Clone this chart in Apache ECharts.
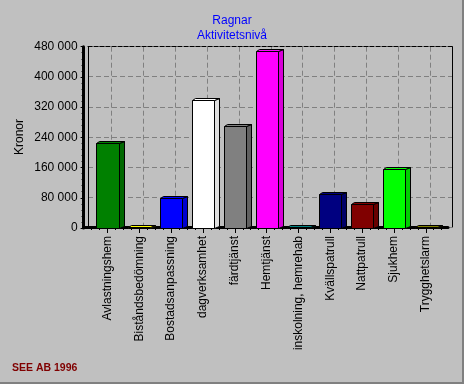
<!DOCTYPE html>
<html>
<head>
<meta charset="utf-8">
<script src="https://cdn.jsdelivr.net/npm/echarts@6/dist/echarts.min.js"></script>
<style>
html,body{margin:0;padding:0;background:#c0c0c0;}
#c{width:464px;height:384px;}
</style>
</head>
<body>
<div id="c"></div>
<script>
const categories = ['Avlastningshem','Biståndsbedömning','Bostadsanpassning','dagverksamhet','färdtjänst','Hemtjänst','inskolning, hemrehab','Kvällspatrull','Nattpatrull','Sjukhem','Trygghetslarm'];
const values = [226000, 2000, 78600, 339000, 270000, 468000, 2000, 89200, 62700, 155400, 1500];
const yTicks = [0, 80000, 160000, 240000, 320000, 400000, 480000];
const titleLines = ['Ragnar', 'Aktivitetsnivå'];
const yName = 'Kronor';
const footer = 'SEE AB 1996';

const barColors = ['#008000','#ffff00','#0000ff','#ffffff','#808080','#ff00ff','#008080','#000080','#800000','#00ff00','#808000'];
const sideColors = ['#006800','#d8d800','#0000d0','#e0e0e0','#606060','#d800d8','#006868','#000068','#680000','#00d000','#686800'];

const font = 'Liberation Sans, Arial, sans-serif';
const fmt = v => String(v).replace(/\B(?=(\d{3})+(?!\d))/g, ' ');

const chart = echarts.init(document.getElementById('c'), null, {renderer:'canvas'});

function renderBar(params, api){
  const i = api.value(0), v = api.value(1);
  const top = api.coord([i, v]);
  const base = api.coord([i, 0]);
  const w = api.size([1, 0])[0] * 0.7;
  const x1 = Math.round(top[0] - w/2) + 0.5;
  const x2 = Math.round(top[0] + w/2) + 0.5;
  const yT = Math.round(top[1]) + 0.5;
  const yB = Math.round(base[1]) + 0.5;
  const dxL = 3, dxR = 5, dy = 2;
  const c = barColors[i], s = sideColors[i];
  const st = {stroke:'#000', lineWidth:1};
  return {
    type:'group',
    children:[
      {type:'polygon', shape:{points:[[x2,yT],[x2+dxR,yT-dy],[x2+dxR,yB-dy],[x2,yB]]}, style:Object.assign({fill:s}, st)},
      {type:'polygon', shape:{points:[[x1,yT],[x1+dxL,yT-dy],[x2+dxR,yT-dy],[x2,yT]]}, style:Object.assign({fill:c}, st)},
      {type:'rect', shape:{x:x1, y:yT, width:x2-x1, height:Math.max(yB-yT,0)}, style:Object.assign({fill:c}, st)}
    ]
  };
}

const option = {
  backgroundColor:'#c0c0c0',
  animation:false,
  title:{
    text: titleLines.join('\n'),
    left:'center', top:8,
    textStyle:{color:'#0000ff', fontSize:12, fontWeight:'normal', fontFamily:font, lineHeight:15}
  },
  grid:[
    {left:91.6, right:22.3, top:46.7, bottom:156},   // front plane
    {left:88, right:12, top:46.7, bottom:157},       // frame
    {left:111.7, right:34, top:46.7, bottom:157},    // vertical grid lines
    {left:84, right:16, top:46.7, bottom:157}        // floor
  ],
  xAxis:[
    {type:'category', gridIndex:0, data:categories, position:'bottom',
     axisLine:{show:false, onZero:false},
     axisTick:{show:true, alignWithLabel:true, length:5, lineStyle:{color:'#000'}},
     axisLabel:{rotate:90, margin:8, color:'#000', fontSize:12, fontFamily:font, interval:0},
     splitLine:{show:false}},
    {type:'value', gridIndex:0, min:-0.5, max:10.5, interval:0.25, position:'bottom', offset:0,
     axisLine:{show:false, onZero:false}, axisLabel:{show:false}, splitLine:{show:false},
     axisTick:{show:true, length:2, lineStyle:{color:'#000'}}},
    {type:'value', gridIndex:1, min:0, max:1, position:'top',
     axisLine:{show:true, onZero:false, lineStyle:{color:'#000', type:[4,2], width:1}},
     axisTick:{show:false}, axisLabel:{show:false}, splitLine:{show:false}},
    {type:'value', gridIndex:2, min:0, max:10, interval:1,
     axisLine:{show:false}, axisTick:{show:false}, axisLabel:{show:false},
     splitLine:{show:true, lineStyle:{color:'#808080', type:[5,3], width:1}}},
    {type:'value', gridIndex:3, min:0, max:1, position:'bottom',
     axisLine:{show:true, onZero:false, lineStyle:{color:'#000', width:3}},
     axisTick:{show:false}, axisLabel:{show:false}, splitLine:{show:false}}
  ],
  yAxis:[
    {type:'value', gridIndex:0, min:yTicks[0], max:yTicks[yTicks.length-1], interval:yTicks[1]-yTicks[0],
     offset:8, position:'left',
     axisLine:{show:true, onZero:false, lineStyle:{color:'#000', width:3}},
     axisTick:{show:true, length:3, lineStyle:{color:'#000'}},
     minorTick:{show:true, splitNumber:5, length:2, lineStyle:{color:'#000'}},
     axisLabel:{color:'#000', fontSize:12, fontFamily:font, margin:6, formatter:fmt},
     splitLine:{show:false}},
    {type:'value', gridIndex:1, min:yTicks[0], max:yTicks[yTicks.length-1], interval:yTicks[1]-yTicks[0], position:'left',
     axisLine:{show:true, onZero:false, lineStyle:{color:'#000', width:1}},
     axisTick:{show:false}, axisLabel:{show:false},
     splitLine:{show:true, lineStyle:{color:'#808080', type:[5,3], width:1}}},
    {type:'value', gridIndex:1, min:0, max:1, position:'right',
     axisLine:{show:true, onZero:false, lineStyle:{color:'#000', width:1}},
     axisTick:{show:false}, axisLabel:{show:false}, splitLine:{show:false}},
    {type:'value', gridIndex:2, min:0, max:1, show:false},
    {type:'value', gridIndex:3, min:0, max:1, show:false}
  ],
  series:[
    {type:'custom', xAxisIndex:0, yAxisIndex:0, renderItem:renderBar,
     encode:{x:0, y:1}, clip:false, z:5,
     data: values.map((v, i) => [i, v])}
  ],
  graphic:[
    {type:'text', x:20, y:137, rotation:Math.PI/2,
     style:{text:yName, fill:'#000', font:'12px ' + font, align:'center', verticalAlign:'middle'}},
    {type:'text', left:12, top:363,
     style:{text:footer, fill:'#800000', font:'bold 10.5px ' + font}},
    {type:'rect', shape:{x:462, y:0, width:2, height:384}, style:{fill:'#808080'}},
    {type:'rect', shape:{x:0, y:382, width:464, height:2}, style:{fill:'#808080'}}
  ]
};
chart.setOption(option);
</script>
</body>
</html>
